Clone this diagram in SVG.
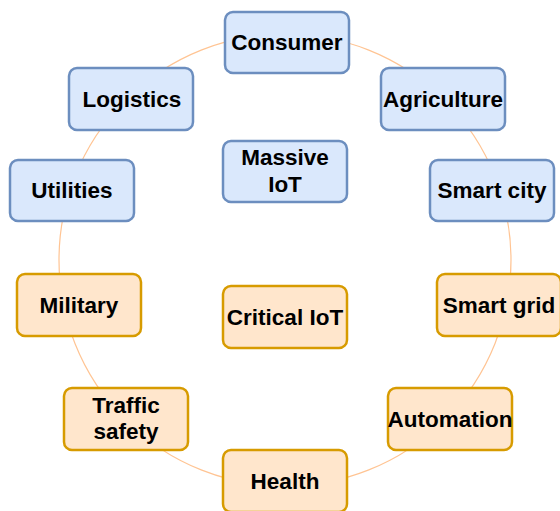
<svg xmlns="http://www.w3.org/2000/svg" width="560" height="511" viewBox="0 0 560 511">
<style>
.b{fill:#dae8fc;stroke:#6c8ebf;stroke-width:2.5}
.o{fill:#ffe6cc;stroke:#d79b00;stroke-width:2.5}
text{font-family:"Liberation Sans",Arial,sans-serif;font-weight:bold;font-size:22.5px;fill:#000;text-anchor:middle}
</style>
<rect width="560" height="511" fill="#fff"/>
<g id="connectors">
<circle cx="285" cy="260" r="226" fill="none" stroke="#ffc493" stroke-width="1.2"/>
</g>
<g id="consumer"><rect class="b" x="225" y="12" width="124" height="61" rx="8"/><text x="287" y="50">Consumer</text></g>
<g id="logistics"><rect class="b" x="69" y="68" width="124" height="62" rx="8"/><text x="132" y="107">Logistics</text></g>
<g id="agriculture"><rect class="b" x="381" y="68" width="124" height="62" rx="8"/><text x="443" y="107">Agriculture</text></g>
<g id="utilities"><rect class="b" x="10" y="160" width="124" height="61" rx="8"/><text x="72" y="198">Utilities</text></g>
<g id="smartcity"><rect class="b" x="430" y="160" width="124" height="61" rx="8"/><text x="492" y="198">Smart city</text></g>
<g id="massive"><rect class="b" x="223" y="141" width="124" height="61" rx="8"/><text x="285" y="165">Massive</text><text x="285" y="192">IoT</text></g>
<g id="military"><rect class="o" x="17" y="274" width="124" height="62" rx="8"/><text x="79" y="313">Military</text></g>
<g id="smartgrid"><rect class="o" x="437" y="274" width="124" height="62" rx="8"/><text x="499" y="313">Smart grid</text></g>
<g id="critical"><rect class="o" x="223" y="286" width="124" height="62" rx="8"/><text x="285" y="325">Critical IoT</text></g>
<g id="traffic"><rect class="o" x="64" y="388" width="124" height="62" rx="8"/><text x="126" y="413">Traffic</text><text x="126" y="439">safety</text></g>
<g id="automation"><rect class="o" x="388" y="388" width="124" height="62" rx="8"/><text x="450" y="427">Automation</text></g>
<g id="health"><rect class="o" x="223" y="450" width="124" height="62" rx="8"/><text x="285" y="489">Health</text></g>
</svg>
